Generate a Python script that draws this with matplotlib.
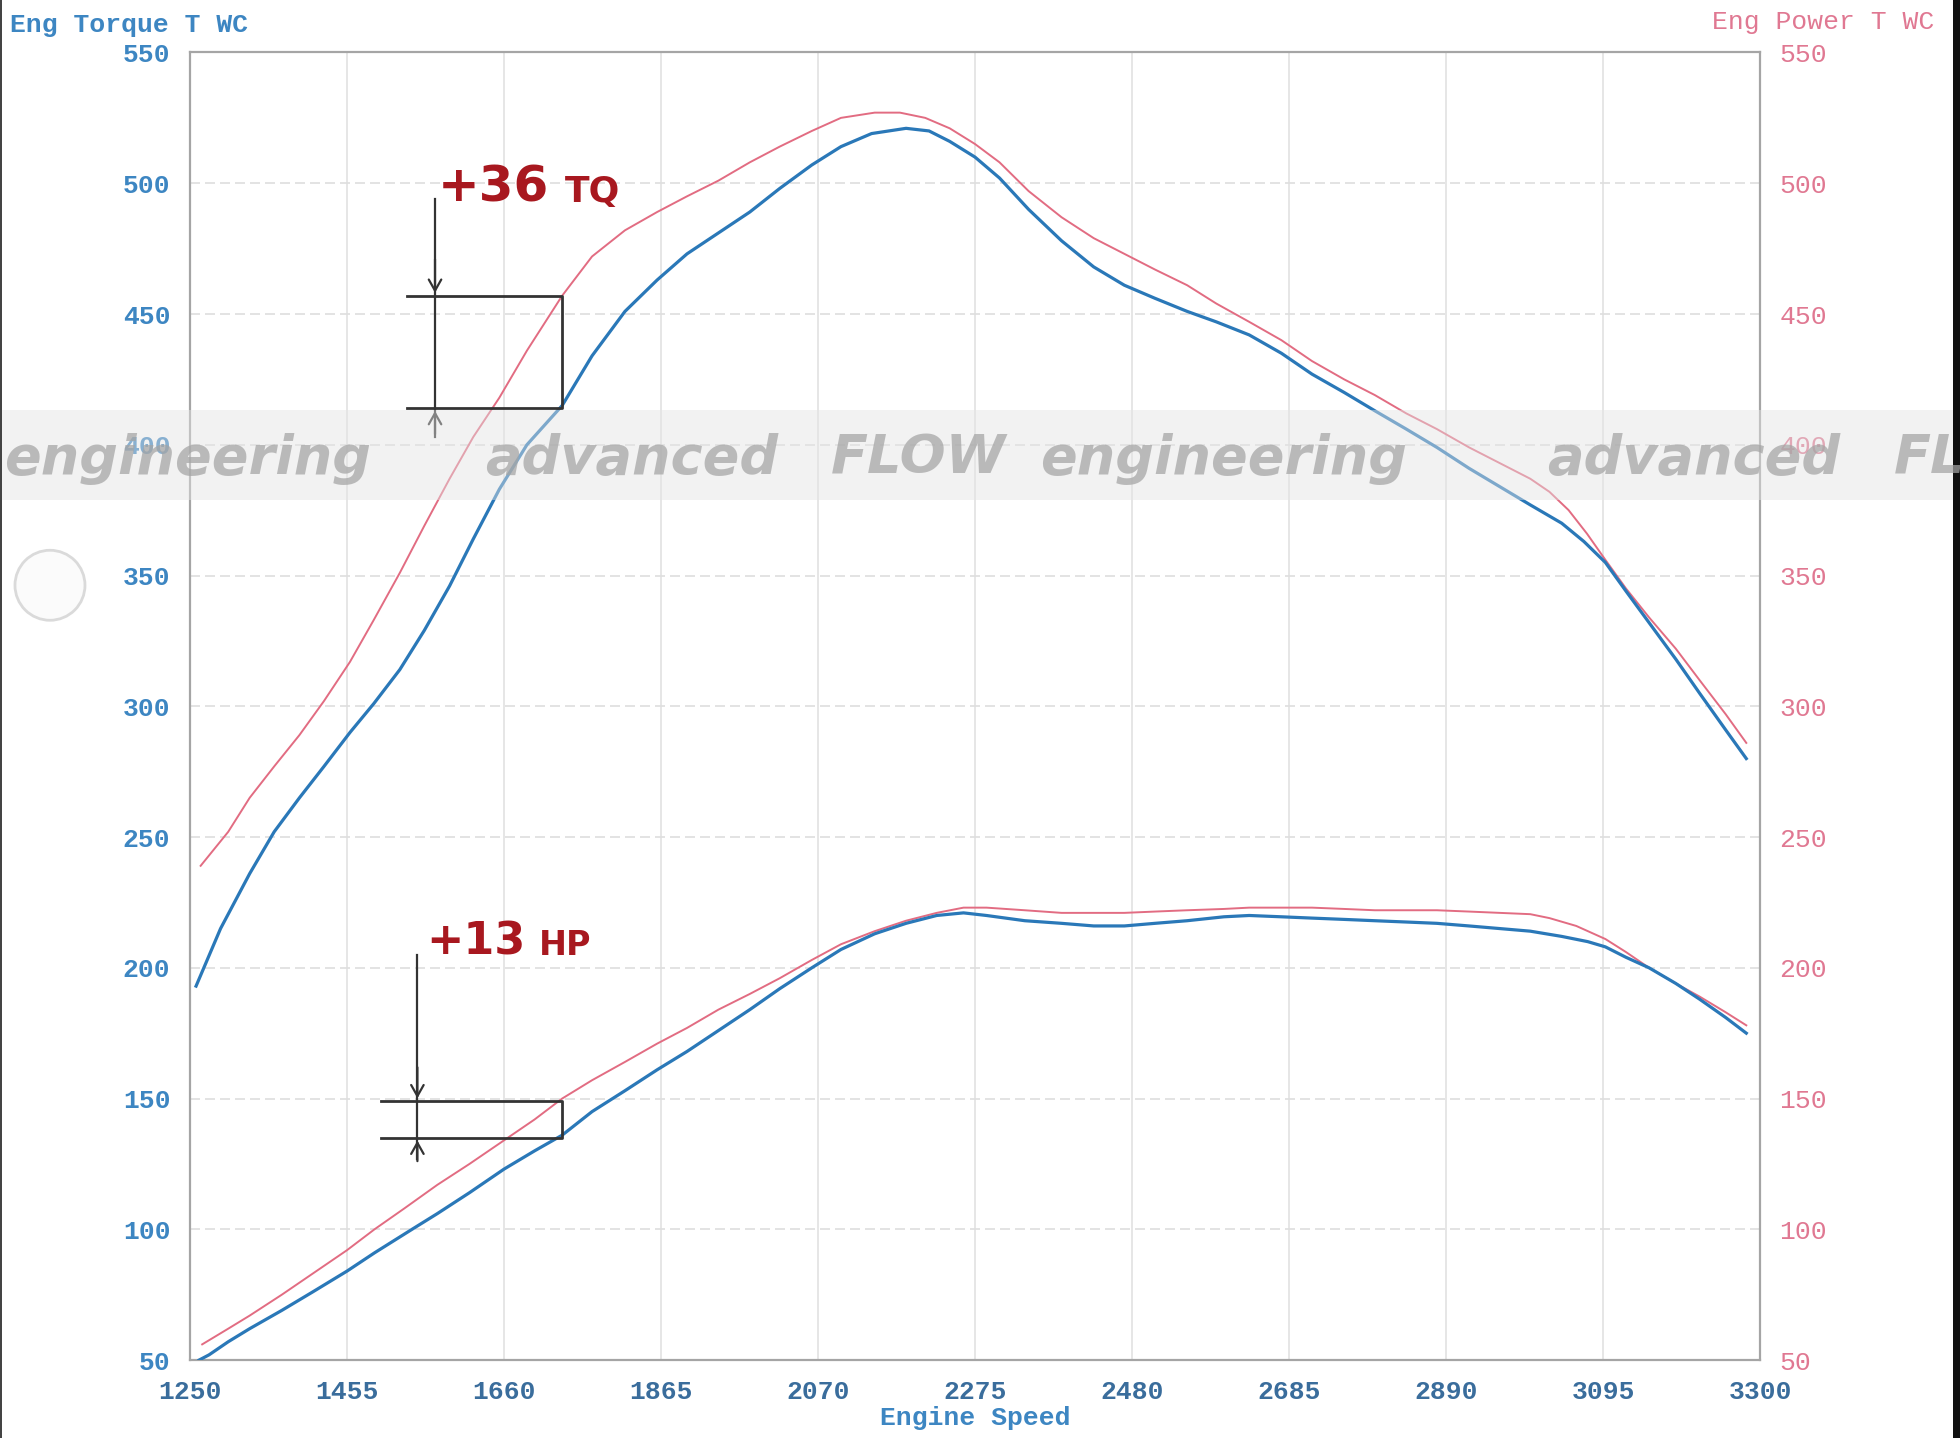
import matplotlib
matplotlib.use("Agg")
import matplotlib.pyplot as plt
from matplotlib.patches import Rectangle, Ellipse

# ---------------- data ----------------
rpm_ticks = [1250, 1455, 1660, 1865, 2070, 2275, 2480, 2685, 2890, 3095, 3300]
val_ticks = [50, 100, 150, 200, 250, 300, 350, 400, 450, 500, 550]

tq_blue_rpm = [1258, 1290, 1328, 1360, 1393, 1425, 1459, 1490, 1524, 1556, 1589, 1620,
               1654, 1690, 1736, 1775, 1818, 1860, 1899, 1940, 1981, 2020, 2062, 2100,
               2140, 2185, 2215, 2242, 2275, 2307, 2345, 2388, 2430, 2470, 2510, 2552,
               2590, 2633, 2675, 2715, 2757, 2797, 2838, 2878, 2920, 2960, 3000, 3041,
               3070, 3098, 3125, 3155, 3190, 3221, 3255, 3282]
tq_blue = [193, 215, 236, 252, 265, 277, 290, 301, 314, 329, 346, 364,
           383, 400, 415, 434, 451, 463, 473, 481, 489, 498, 507, 514,
           519, 521, 520, 516, 510, 502, 490, 478, 468, 461, 456, 451,
           447, 442, 435, 427, 420, 413, 406, 399, 391, 384, 377, 370,
           363, 355, 344, 332, 318, 305, 291, 280]

tq_red_rpm = [1264, 1300, 1328, 1360, 1393, 1425, 1459, 1490, 1524, 1556, 1589, 1620,
              1654, 1690, 1736, 1775, 1818, 1860, 1899, 1940, 1981, 2020, 2062, 2100,
              2144, 2177, 2210, 2242, 2275, 2307, 2345, 2388, 2430, 2470, 2510, 2552,
              2590, 2633, 2675, 2715, 2757, 2797, 2838, 2878, 2920, 2960, 3000, 3025,
              3050, 3074, 3098, 3125, 3155, 3190, 3221, 3255, 3282]
tq_red = [239, 252, 265, 277, 289, 302, 317, 333, 351, 369, 387, 403,
          418, 436, 457, 472, 482, 489, 495, 501, 508, 514, 520, 525,
          527, 527, 525, 521, 515, 508, 497, 487, 479, 473, 467, 461,
          454, 447, 440, 432, 425, 419, 412, 406, 399, 393, 387, 382,
          375, 366, 356, 345, 334, 322, 310, 297, 286]

hp_blue_rpm = [1262, 1275, 1300, 1328, 1370, 1410, 1455, 1491, 1540, 1573, 1615, 1660,
               1700, 1736, 1775, 1818, 1860, 1899, 1940, 1981, 2020, 2062, 2100, 2144,
               2185, 2225, 2260, 2290, 2340, 2388, 2430, 2470, 2510, 2552, 2600, 2633,
               2675, 2715, 2757, 2797, 2838, 2878, 2920, 2960, 3000, 3041, 3075, 3098,
               3125, 3155, 3190, 3221, 3255, 3282]
hp_blue = [50, 52, 57, 62, 69, 76, 84, 91, 100, 106, 114, 123,
           130, 136, 145, 153, 161, 168, 176, 184, 192, 200, 207, 213,
           217, 220, 221, 220, 218, 217, 216, 216, 217, 218, 219.5, 220,
           219.5, 219, 218.5, 218, 217.5, 217, 216, 215, 214, 212, 210, 208,
           204, 200, 194, 188, 181, 175]

hp_red_rpm = [1266, 1300, 1328, 1370, 1410, 1455, 1491, 1530, 1573, 1615, 1660, 1700,
              1736, 1775, 1818, 1860, 1899, 1940, 1981, 2020, 2062, 2100, 2144, 2185,
              2225, 2260, 2290, 2340, 2388, 2430, 2470, 2510, 2552, 2600, 2633, 2675,
              2715, 2757, 2797, 2838, 2878, 2920, 2960, 3000, 3025, 3060, 3098, 3125,
              3155, 3190, 3221, 3255, 3282]
hp_red = [56, 62, 67, 75, 83, 92, 100, 108, 117, 125, 134, 142,
          150, 157, 164, 171, 177, 184, 190, 196, 203, 209, 214, 218,
          221, 223, 223, 222, 221, 221, 221, 221.5, 222, 222.5, 223, 223,
          223, 222.5, 222, 222, 222, 221.5, 221, 220.5, 219, 216, 211, 206,
          200, 194, 189, 183, 178]

gain_labels = ["+36", "TQ", "+13", "HP"]
left_title = "Eng Torque T WC"
right_title = "Eng Power T WC"
x_title = "Engine Speed"
watermark_words = ["advanced", "FLOW", "engineering"]

# ---------------- style ----------------
BLUE = "#2a78b8"
RED = "#e26c82"
LBLUE = "#3d86c2"
XBLUE = "#3a6d9c"
PINK = "#e07892"
ANN = "#333333"
DRED = "#a8181f"
MONO = "Liberation Mono"

fig = plt.figure(figsize=(19.6, 14.38), dpi=100)
fig.patch.set_facecolor("white")
ax = fig.add_axes([0.0969, 0.0542, 0.8011, 0.9093])
ax.set_xlim(rpm_ticks[0], rpm_ticks[-1])
ax.set_ylim(val_ticks[0], val_ticks[-1])

ax.set_xticks(rpm_ticks)
ax.set_xticklabels([str(v) for v in rpm_ticks])
ax.set_yticks(val_ticks)
ax.set_yticklabels([str(v) for v in val_ticks])

for lab in ax.get_xticklabels():
    lab.set_fontfamily(MONO); lab.set_fontweight("bold"); lab.set_fontsize(19); lab.set_color(XBLUE)
for lab in ax.get_yticklabels():
    lab.set_fontfamily(MONO); lab.set_fontweight("bold"); lab.set_fontsize(19); lab.set_color(LBLUE)
ax.tick_params(axis="both", length=0)
ax.tick_params(axis="x", pad=14)
ax.tick_params(axis="y", pad=14)

for v in rpm_ticks[1:-1]:
    ax.axvline(v, color="#e2e2e2", lw=1.2, zorder=0)
for v in val_ticks[1:-1]:
    ax.axhline(v, color="#dedede", lw=1.2, ls=(0, (6, 3)), zorder=0)
for s in ax.spines.values():
    s.set_color("#a5a5a5"); s.set_linewidth(1.6)

ax.set_xlabel(x_title, fontfamily=MONO, fontweight="bold", fontsize=19, color=LBLUE, labelpad=2)

ax2 = ax.twinx()
ax2.set_ylim(val_ticks[0], val_ticks[-1])
ax2.set_yticks(val_ticks)
ax2.set_yticklabels([str(v) for v in val_ticks])
for lab in ax2.get_yticklabels():
    lab.set_fontfamily(MONO); lab.set_fontsize(19); lab.set_color(PINK)
ax2.tick_params(axis="y", length=0, pad=14)
for s in ax2.spines.values():
    s.set_visible(False)

# curves
ax.plot(tq_red_rpm, tq_red, color=RED, lw=1.4, zorder=3, solid_joinstyle="round")
ax.plot(hp_red_rpm, hp_red, color=RED, lw=1.4, zorder=3, solid_joinstyle="round")
ax.plot(tq_blue_rpm, tq_blue, color=BLUE, lw=2.3, zorder=4, solid_joinstyle="round")
ax.plot(hp_blue_rpm, hp_blue, color=BLUE, lw=2.3, zorder=4, solid_joinstyle="round")

ARROW = dict(arrowstyle="->,head_length=0.8,head_width=0.45", color=ANN, lw=1.6)

# annotations: torque gain box
ax.plot([1534, 1736, 1736, 1534], [457, 457, 414, 414], color=ANN, lw=2.0, zorder=5)
ax.plot([1570, 1570], [494, 403], color=ANN, lw=1.6, zorder=5)
ax.annotate("", xy=(1570, 457), xytext=(1570, 472), arrowprops=ARROW, zorder=5)
ax.annotate("", xy=(1570, 414), xytext=(1570, 403), arrowprops=ARROW, zorder=5)
ax.text(1573, 493, gain_labels[0], fontfamily="DejaVu Sans", fontweight="bold", fontsize=36,
        color=DRED, va="baseline", ha="left", zorder=6)
ax.text(1739, 493, gain_labels[1], fontfamily="DejaVu Sans", fontweight="bold", fontsize=26,
        color=DRED, va="baseline", ha="left", zorder=6)

# annotations: power gain box
ax.plot([1500, 1736, 1736, 1500], [149, 149, 135, 135], color=ANN, lw=2.0, zorder=5)
ax.plot([1547, 1547], [205, 127], color=ANN, lw=1.6, zorder=5)
ax.annotate("", xy=(1547, 149), xytext=(1547, 163), arrowprops=ARROW, zorder=5)
ax.annotate("", xy=(1547, 135), xytext=(1547, 125), arrowprops=ARROW, zorder=5)
ax.text(1559, 205, gain_labels[2], fontfamily="DejaVu Sans", fontweight="bold", fontsize=32,
        color=DRED, va="baseline", ha="left", zorder=6)
ax.text(1705, 205, gain_labels[3], fontfamily="DejaVu Sans", fontweight="bold", fontsize=24,
        color=DRED, va="baseline", ha="left", zorder=6)

# axis titles
fig.text(0.005, 0.9826, left_title, fontfamily=MONO, fontweight="bold", fontsize=19,
         color=LBLUE, ha="left", va="center")
fig.text(0.987, 0.985, right_title, fontfamily=MONO, fontsize=19,
         color=PINK, ha="right", va="center")

# watermark band
fig.patches.append(Rectangle((0, 0.652), 1, 0.063, transform=fig.transFigure,
                             facecolor="#e4e4e4", edgecolor="none", alpha=0.45, zorder=5))
wm_style = dict(fontfamily="DejaVu Sans", fontweight="bold", style="italic", fontsize=39,
                color="#a4a4a4", alpha=0.72, va="center", zorder=6)
fig.text(0.1894, 0.681, watermark_words[2], ha="right", **wm_style)
for xpos, word in [(0.2474, watermark_words[0]), (0.4241, watermark_words[1]),
                   (0.5306, watermark_words[2]), (0.7895, watermark_words[0]),
                   (0.9662, watermark_words[1])]:
    fig.text(xpos, 0.681, word, ha="left", **wm_style)

# decorative scan artefacts
fig.patches.append(Ellipse((0.0255, 0.593), 70 / 1960, 70 / 1438, transform=fig.transFigure,
                           facecolor="#fbfbfb", edgecolor="#dadada", lw=2, zorder=5))
fig.patches.append(Rectangle((0.9962, 0), 0.0038, 1, transform=fig.transFigure,
                             facecolor="#111111", edgecolor="none", zorder=5))
fig.patches.append(Rectangle((0, 0), 0.0012, 1, transform=fig.transFigure,
                             facecolor="#444444", edgecolor="none", zorder=5))

fig.savefig("out.png", dpi=100)
